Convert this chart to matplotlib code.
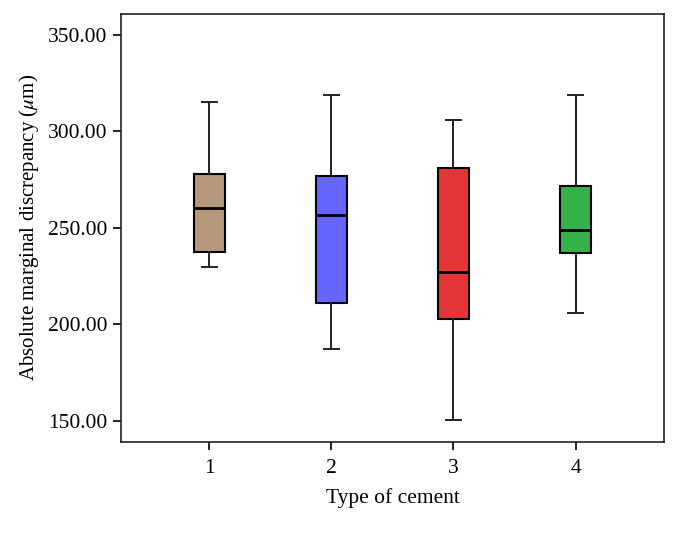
import matplotlib
matplotlib.use("Agg")
import matplotlib.pyplot as plt

plt.rcParams["font.family"] = ["Liberation Serif", "DejaVu Serif"]
plt.rcParams["mathtext.fontset"] = "stix"

# values
cement_types = ["1", "2", "3", "4"]
whisker_low = [229.5, 187.3, 150.3, 206.0]
q1 = [237.6, 210.8, 202.9, 236.9]
median = [260.3, 256.5, 227.2, 248.9]
q3 = [278.1, 276.9, 280.9, 271.8]
whisker_high = [314.9, 319.0, 305.9, 318.7]
box_colors = ["#b5977a", "#6666ff", "#e33535", "#34b24c"]

stats = []
for i, name in enumerate(cement_types):
    stats.append({
        "label": name,
        "whislo": whisker_low[i],
        "q1": q1[i],
        "med": median[i],
        "q3": q3[i],
        "whishi": whisker_high[i],
        "fliers": [],
    })

fig = plt.figure(figsize=(6.79, 5.42), dpi=100)
ax = fig.add_axes([0.178, 0.184, 0.8, 0.791])

bp = ax.bxp(
    stats,
    positions=range(1, len(stats) + 1),
    widths=0.25,
    patch_artist=True,
    showfliers=False,
    boxprops=dict(edgecolor="black", linewidth=1.5),
    medianprops=dict(color="black", linewidth=2),
    whiskerprops=dict(color="#222222", linewidth=1.4),
    capprops=dict(color="#222222", linewidth=1.4),
    capwidths=0.12,
)
for patch, c in zip(bp["boxes"], box_colors):
    patch.set_facecolor(c)

ax.set_xlim(0.275, 4.725)
ax.set_ylim(138.8, 361)
ax.set_yticks([150, 200, 250, 300, 350])
ax.set_yticklabels([f"{v:.2f}" for v in [150, 200, 250, 300, 350]])

ax.tick_params(axis="both", direction="out", length=6, width=1.2, labelsize=15.5, colors="black")
ax.tick_params(axis="x", pad=6)
for s in ax.spines.values():
    s.set_linewidth(1.2)
    s.set_color("#222222")

ax.set_xlabel("Type of cement", fontsize=15.5, labelpad=7)
ax.set_ylabel(r"Absolute marginal discrepancy ($\mu$m)", fontsize=15, labelpad=5)

fig.savefig("out.png", dpi=100)
